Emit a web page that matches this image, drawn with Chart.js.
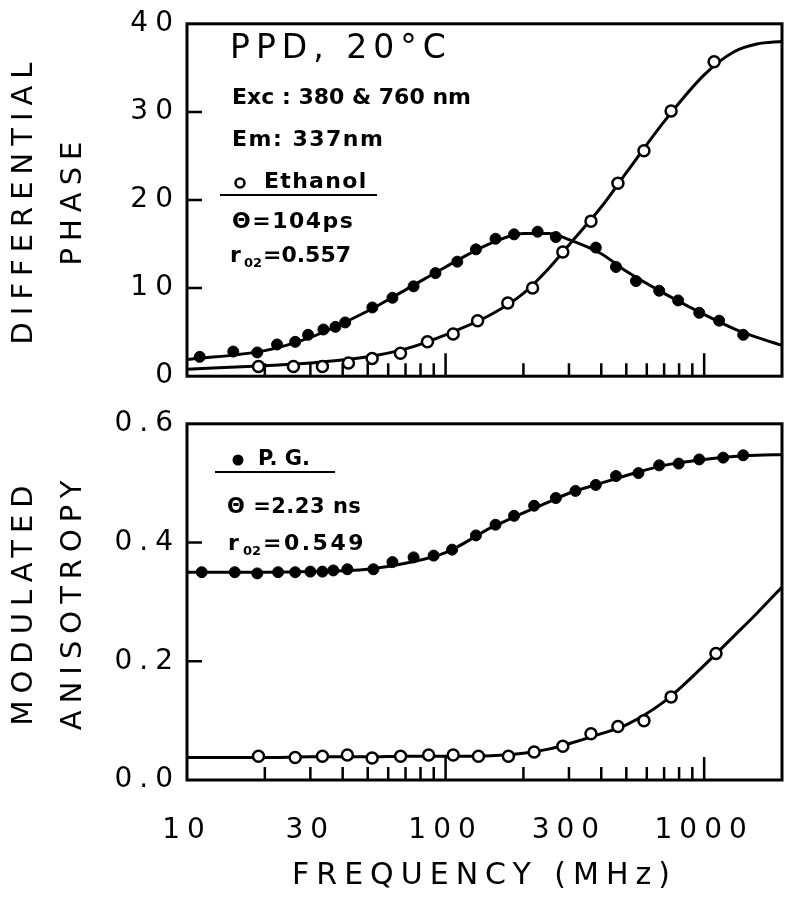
<!DOCTYPE html>
<html>
<head>
<meta charset="utf-8">
<script src="https://cdn.jsdelivr.net/npm/chart.js@4"></script>
<style>
  html, body { margin: 0; padding: 0; background: #fff; }
  #wrap { position: relative; width: 791px; height: 900px; background: #fff; }
  canvas { position: absolute; left: 0; }
  #c1 { top: 0; }
  #c2 { top: 400px; }
</style>
</head>
<body>
<div id="wrap">
  <canvas id="c1" width="791" height="400"></canvas>
  <canvas id="c2" width="791" height="500"></canvas>
</div>
<script>
// ---------- Data ----------
// Top panel: differential phase (degrees)
const phaseFreqPG = [11.2, 15.1, 18.7, 22.3, 26.2, 29.4, 33.7, 37.5, 40.9, 52.1, 62.3, 75.2, 91.4, 111, 131, 156, 184, 227, 267, 381, 456, 545, 670, 793, 957, 1143, 1416];
const phasePG = [2.2, 2.8, 2.7, 3.6, 3.9, 4.7, 5.3, 5.6, 6.1, 7.8, 8.9, 10.2, 11.7, 13.0, 14.4, 15.6, 16.1, 16.4, 15.8, 14.6, 12.4, 10.8, 9.7, 8.6, 7.2, 6.3, 4.7];
const phaseFreqEtOH = [18.9, 25.8, 33.4, 42.1, 52, 66.9, 85.1, 107, 133, 174, 217, 284, 365, 464, 585, 745, 1093];
const phaseEtOH = [1.1, 1.1, 1.1, 1.5, 2.0, 2.6, 3.9, 4.8, 6.3, 8.3, 10.0, 14.1, 17.6, 21.9, 25.6, 30.1, 35.7];

// Bottom panel: modulated anisotropy
const anisoFreqPG = [11.4, 15.3, 18.7, 22.5, 26.2, 30.0, 33.4, 36.8, 41.7, 52.6, 62.3, 75.2, 89.9, 106, 131, 156, 184, 220, 267, 318, 381, 456, 557, 670, 797, 957, 1185, 1416];
const anisoPG = [0.350, 0.350, 0.348, 0.350, 0.350, 0.351, 0.351, 0.353, 0.355, 0.355, 0.367, 0.375, 0.378, 0.388, 0.412, 0.430, 0.445, 0.462, 0.475, 0.487, 0.497, 0.512, 0.517, 0.530, 0.533, 0.540, 0.543, 0.547];
const anisoFreqEtOH = [18.9, 26.2, 33.4, 41.7, 52, 67, 86, 107, 134, 175, 220, 284, 365, 464, 585, 745, 1111];
const anisoEtOH = [0.040, 0.038, 0.040, 0.042, 0.037, 0.040, 0.042, 0.042, 0.040, 0.040, 0.047, 0.057, 0.078, 0.090, 0.100, 0.140, 0.213];

// Fitted curves
const fitFreq = [10, 20, 30, 50, 70, 100, 150, 200, 250, 300, 400, 500, 700, 1000, 1300, 1600, 2000];
const phaseFitPG = [1.9, 2.9, 4.4, 7.4, 9.8, 12.4, 15.1, 16.2, 16.2, 15.5, 13.9, 11.9, 9.4, 7.0, 5.4, 4.4, 3.5];
const phaseFitEtOH = [0.8, 1.2, 1.5, 2.2, 3.1, 4.7, 7.0, 9.4, 12.2, 14.9, 19.2, 23.1, 28.9, 34.2, 36.8, 37.7, 38.0];
const anisoFitPG = [0.350, 0.350, 0.351, 0.355, 0.365, 0.383, 0.425, 0.450, 0.468, 0.483, 0.500, 0.513, 0.530, 0.540, 0.545, 0.547, 0.548];
const anisoFitEtOH = [0.038, 0.038, 0.039, 0.039, 0.040, 0.040, 0.041, 0.045, 0.052, 0.061, 0.078, 0.093, 0.132, 0.193, 0.242, 0.281, 0.325];

// Axis ticks
const xTickLabels = [10, 30, 100, 300, 1000];
const xMinorTicks = [20, 30, 40, 50, 60, 70, 80, 90, 200, 300, 400, 500, 600, 700, 800, 900];
const xMajorTicks = [100, 1000];
const phaseInnerTicks = [10, 20, 30];
const anisoInnerTicks = [0.2, 0.4];

// ---------- helpers ----------
const FONT = 'DejaVu Sans';
const pts = (xs, ys) => xs.map((x, i) => ({ x: x, y: ys[i] }));

function pointSet(data, filled) {
  return {
    data: data, showLine: false, order: 1,
    pointRadius: 5.5, pointHoverRadius: 5.5,
    pointBackgroundColor: filled ? '#000' : '#fff',
    pointBorderColor: '#000', pointBorderWidth: filled ? 1 : 2.5
  };
}
function lineSet(data) {
  return {
    data: data, showLine: true, order: 2,
    pointRadius: 0, borderColor: '#000', borderWidth: 3,
    cubicInterpolationMode: 'monotone', fill: false
  };
}

function makeFramePlugin(yInner, annotate) {
  return {
    id: 'frame',
    beforeDraw(chart) {
      chart.ctx.letterSpacing = '7px';
    },
    afterDraw(chart) {
      const ctx = chart.ctx, a = chart.chartArea;
      const x = chart.scales.x, y = chart.scales.y;
      ctx.save();
      ctx.strokeStyle = '#000';
      ctx.lineWidth = 2.5;
      ctx.beginPath();
      xMinorTicks.forEach(v => { const px = x.getPixelForValue(v); ctx.moveTo(px, a.bottom); ctx.lineTo(px, a.bottom - 13); });
      xMajorTicks.forEach(v => { const px = x.getPixelForValue(v); ctx.moveTo(px, a.bottom); ctx.lineTo(px, a.bottom - 23); });
      yInner.forEach(v => { const py = y.getPixelForValue(v); ctx.moveTo(a.left, py); ctx.lineTo(a.left + 15, py); });
      ctx.stroke();
      ctx.lineWidth = 3;
      ctx.strokeRect(a.left, a.top, a.right - a.left, a.bottom - a.top);
      ctx.restore();
      annotate(ctx);
    }
  };
}

function txt(ctx, s, x, y, size, weight, spacing) {
  ctx.font = (weight || 'bold') + ' ' + size + 'px "' + FONT + '"';
  ctx.letterSpacing = (spacing || 0) + 'px';
  ctx.fillText(s, x, y);
}

function annotateTop(ctx) {
  ctx.save();
  ctx.fillStyle = '#000'; ctx.strokeStyle = '#000';
  ctx.textAlign = 'left'; ctx.textBaseline = 'middle';
  txt(ctx, 'PPD, 20°C', 230, 49, 33, 'normal', 6);
  txt(ctx, 'Exc : 380 & 760 nm', 232, 98, 22, 'bold', 0);
  txt(ctx, 'Em: 337nm', 232, 140, 22, 'bold', 1.5);
  ctx.lineWidth = 2.5;
  ctx.beginPath(); ctx.arc(240, 183, 4.5, 0, Math.PI * 2); ctx.stroke();
  txt(ctx, 'Ethanol', 264, 182, 22, 'bold', 1.3);
  ctx.lineWidth = 2;
  ctx.beginPath(); ctx.moveTo(220, 195); ctx.lineTo(377, 195); ctx.stroke();
  txt(ctx, 'Θ=104ps', 232, 222, 22, 'bold', 1.5);
  txt(ctx, 'r', 230, 256, 22, 'bold', 0);
  txt(ctx, '02', 244, 264, 13, 'bold', 0);
  txt(ctx, '=0.557', 263, 256, 22, 'bold', 0);
  ctx.restore();
}
function annotateBottom(ctx) {
  const o = -400;
  ctx.save();
  ctx.fillStyle = '#000'; ctx.strokeStyle = '#000';
  ctx.textAlign = 'left'; ctx.textBaseline = 'middle';
  ctx.beginPath(); ctx.arc(238, 460 + o, 5.5, 0, Math.PI * 2); ctx.fill();
  txt(ctx, 'P. G.', 258, 460 + o, 21, 'bold', 0);
  ctx.lineWidth = 2;
  ctx.beginPath(); ctx.moveTo(215, 472 + o); ctx.lineTo(335, 472 + o); ctx.stroke();
  txt(ctx, 'Θ =2.23 ns', 227, 508 + o, 21, 'bold', 0.5);
  txt(ctx, 'r', 228, 544 + o, 22, 'bold', 0);
  txt(ctx, '02', 243, 552 + o, 13, 'bold', 0);
  txt(ctx, '=0.549', 263, 544 + o, 22, 'bold', 2.5);
  ctx.restore();
}

const yAxisCommon = (min, max, step, fmt, title) => ({
  type: 'linear', min: min, max: max,
  afterFit: s => { s.width = 187; },
  ticks: { stepSize: step, color: '#000', padding: 7, font: { family: FONT, size: 28 }, callback: fmt },
  grid: { drawOnChartArea: false, drawTicks: false, tickLength: 0 },
  border: { display: false },
  title: { display: true, text: title, color: '#000', padding: { top: 0, bottom: 0 },
           font: { family: FONT, size: 29, lineHeight: 1.7 } }
});

// ---------- Top chart ----------
new Chart(document.getElementById('c1'), {
  type: 'scatter',
  data: { datasets: [
    pointSet(pts(phaseFreqPG, phasePG), true),
    pointSet(pts(phaseFreqEtOH, phaseEtOH), false),
    lineSet(pts(fitFreq, phaseFitPG)),
    lineSet(pts(fitFreq, phaseFitEtOH))
  ]},
  options: {
    responsive: false, animation: false, devicePixelRatio: 1,
    layout: { padding: { top: 20, right: 9, bottom: 19, left: 0 } },
    plugins: { legend: { display: false }, tooltip: { enabled: false } },
    scales: {
      x: { type: 'logarithmic', min: 10, max: 2000, display: false },
      y: yAxisCommon(0, 40, 10, v => String(v), ['DIFFERENTIAL', 'PHASE'])
    }
  },
  plugins: [makeFramePlugin(phaseInnerTicks, annotateTop)]
});

// ---------- Bottom chart ----------
new Chart(document.getElementById('c2'), {
  type: 'scatter',
  data: { datasets: [
    pointSet(pts(anisoFreqPG, anisoPG), true),
    pointSet(pts(anisoFreqEtOH, anisoEtOH), false),
    lineSet(pts(fitFreq, anisoFitPG)),
    lineSet(pts(fitFreq, anisoFitEtOH))
  ]},
  options: {
    responsive: false, animation: false, devicePixelRatio: 1,
    layout: { padding: { top: 20, right: 9, bottom: 0, left: 0 } },
    plugins: { legend: { display: false }, tooltip: { enabled: false } },
    scales: {
      x: {
        type: 'logarithmic', min: 10, max: 2000,
        afterBuildTicks: axis => { axis.ticks = xTickLabels.map(v => ({ value: v })); },
        afterFit: s => { s.height = 120; },
        ticks: { color: '#000', padding: 34, maxRotation: 0, autoSkip: false,
                 font: { family: FONT, size: 28 }, callback: v => String(v) },
        grid: { drawOnChartArea: false, drawTicks: false, tickLength: 0 },
        border: { display: false },
        title: { display: true, text: 'FREQUENCY (MHz)', color: '#000',
                 padding: { top: 0, bottom: 6 }, font: { family: FONT, size: 30 } }
      },
      y: yAxisCommon(0, 0.6, 0.2, v => Number(v).toFixed(1), ['MODULATED', 'ANISOTROPY'])
    }
  },
  plugins: [makeFramePlugin(anisoInnerTicks, annotateBottom)]
});
</script>
</body>
</html>
